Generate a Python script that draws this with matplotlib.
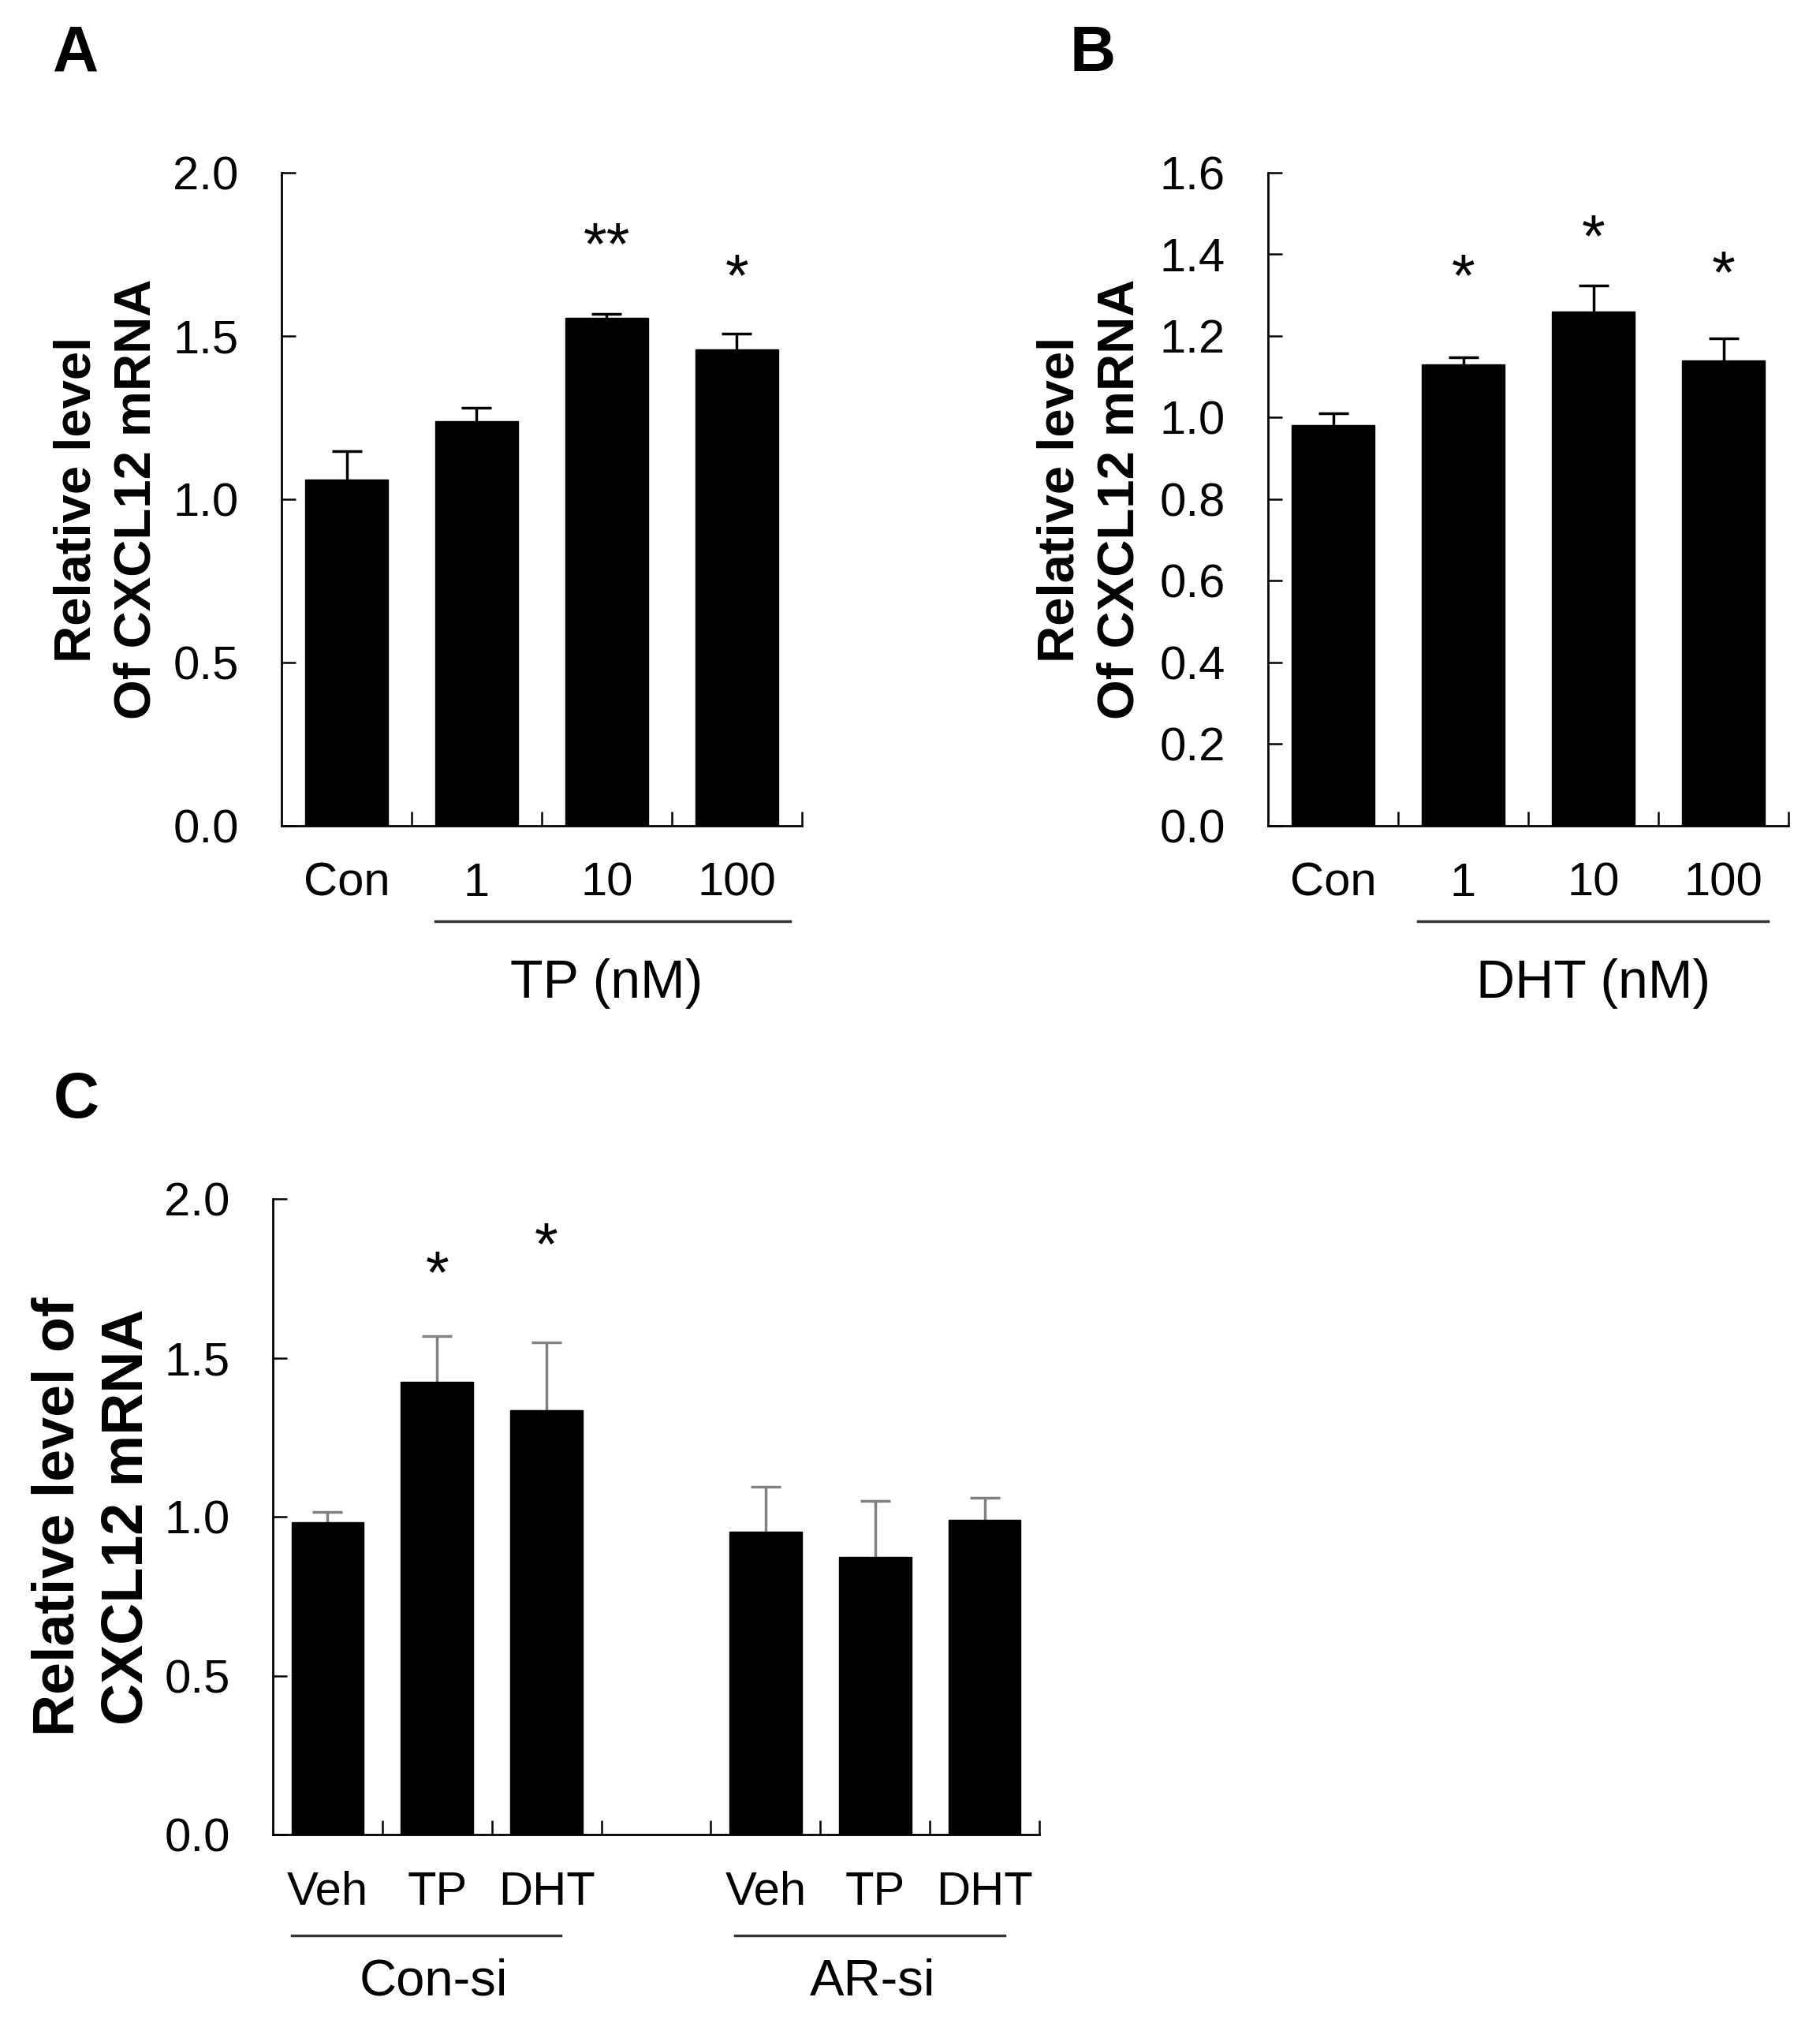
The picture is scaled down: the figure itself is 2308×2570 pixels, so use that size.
import matplotlib.pyplot as plt
import numpy as np

plt.rcParams['font.family'] = ['Liberation Sans', 'DejaVu Sans']

# panel A: TP dose
a_labels = ['Con', '1', '10', '100']
a_vals = [1.061, 1.238, 1.555, 1.460]
a_err = [0.086, 0.042, 0.012, 0.048]
a_stars = ['', '', '**', '*']
a_star_y = [0, 0, 1.807, 1.709]

# panel B: DHT dose
b_labels = ['Con', '1', '10', '100']
b_vals = [0.982, 1.130, 1.260, 1.140]
b_err = [0.028, 0.018, 0.064, 0.054]
b_stars = ['', '*', '*', '*']
b_star_y = [0, 1.368, 1.464, 1.376]

# panel C: siRNA groups (slot 3 left empty)
c_pos = [0, 1, 2, 4, 5, 6]
c_labels = ['Veh', 'TP', 'DHT', 'Veh', 'TP', 'DHT']
c_vals = [0.983, 1.425, 1.335, 0.953, 0.874, 0.989]
c_err = [0.032, 0.143, 0.213, 0.142, 0.175, 0.070]
c_stars = ['', '*', '*', '', '', '']
c_star_y = [0, 1.793, 1.883, 0, 0, 0]

TICK_FS = 43
STAR_FS = 55
GROUP_FS = 49


def draw_panel(ax, pos, vals, errs, labels, stars, star_y, width, errcolor, ymax, ystep, nslots):
    ax.bar(pos, vals, width=width, color='black', edgecolor='black', zorder=2)
    eb = ax.errorbar(pos, vals, yerr=[np.zeros(len(vals)), errs], fmt='none',
                     ecolor=errcolor, elinewidth=2.5, capsize=14, capthick=2.5, zorder=1)
    eb[1][0].set_visible(False)  # lower caps
    for x, s, y in zip(pos, stars, star_y):
        if s:
            ax.annotate(s, (x, y), xytext=(0, -0.46 * STAR_FS), textcoords='offset points',
                        ha='center', va='baseline', fontsize=STAR_FS)
    ax.set_xlim(-0.5, nslots - 0.5)
    ax.set_ylim(0, ymax)
    ticks = np.arange(0, ymax + 1e-9, ystep)
    ax.set_yticks(ticks)
    ax.set_yticklabels(['%.1f' % v for v in ticks])
    ax.set_xticks(pos)
    ax.set_xticklabels(labels)
    ax.set_xticks(np.arange(0.5, nslots, 1.0), minor=True)
    ax.tick_params(axis='x', which='major', length=0, pad=33, labelsize=TICK_FS)
    ax.tick_params(axis='x', which='minor', direction='in', length=13, width=1.8)
    ax.tick_params(axis='y', direction='in', length=13, width=1.8, pad=39, labelsize=TICK_FS)
    for side in ['top', 'right']:
        ax.spines[side].set_visible(False)
    for side in ['left', 'bottom']:
        ax.spines[side].set_linewidth(2)


def group(ax, x0, x1, y, text, tx, ty, fs):
    tr = ax.get_xaxis_transform()
    ax.plot([x0, x1], [y, y], transform=tr, color='#333333', lw=2.5, clip_on=False)
    ax.text(tx, ty, text, transform=tr, ha='center', va='center', fontsize=fs)


fig = plt.figure(figsize=(23.08, 25.70), dpi=100)

axA = fig.add_axes([0.15468, 0.59261, 0.28596, 0.32218])
draw_panel(axA, range(4), a_vals, a_err, a_labels, a_stars, a_star_y, 0.64, 'black', 2.0, 0.5, 4)
group(axA, 0.68, 3.41, -0.146, 'TP (nM)', 2, -0.242, GROUP_FS)
axA.set_ylabel('Relative level\nOf CXCL12 mRNA', fontsize=47, fontweight='bold', linespacing=1.34, va='center')
axA.yaxis.set_label_coords(-0.336, 0.5)

axB = fig.add_axes([0.69671, 0.59261, 0.28596, 0.32218])
draw_panel(axB, range(4), b_vals, b_err, b_labels, b_stars, b_star_y, 0.64, 'black', 1.6, 0.2, 4)
group(axB, 0.65, 3.34, -0.146, 'DHT (nM)', 2, -0.242, GROUP_FS)
axB.set_ylabel('Relative level\nOf CXCL12 mRNA', fontsize=47, fontweight='bold', linespacing=1.34, va='center')
axB.yaxis.set_label_coords(-0.342, 0.5)

axC = fig.add_axes([0.14991, 0.09494, 0.42114, 0.31362])
draw_panel(axC, c_pos, c_vals, c_err, c_labels, c_stars, c_star_y, 0.66, '#808080', 2.0, 0.5, 7)
group(axC, -0.33, 2.13, -0.159, 'Con-si', 0.97, -0.232, 47)
group(axC, 3.72, 6.18, -0.159, 'AR-si', 4.98, -0.232, 47)
axC.set_ylabel('Relative level of\nCXCL12 mRNA', fontsize=53, fontweight='bold', linespacing=1.34, va='center')
axC.yaxis.set_label_coords(-0.235, 0.5)

fig.text(96 / 2308, 1 - 90 / 2570, 'A', fontsize=58, fontweight='bold', ha='center', va='baseline')
fig.text(1386 / 2308, 1 - 90 / 2570, 'B', fontsize=58, fontweight='bold', ha='center', va='baseline')
fig.text(97 / 2308, 1 - 1417 / 2570, 'C', fontsize=58, fontweight='bold', ha='center', va='baseline')

plt.savefig('out.png', dpi=100)
